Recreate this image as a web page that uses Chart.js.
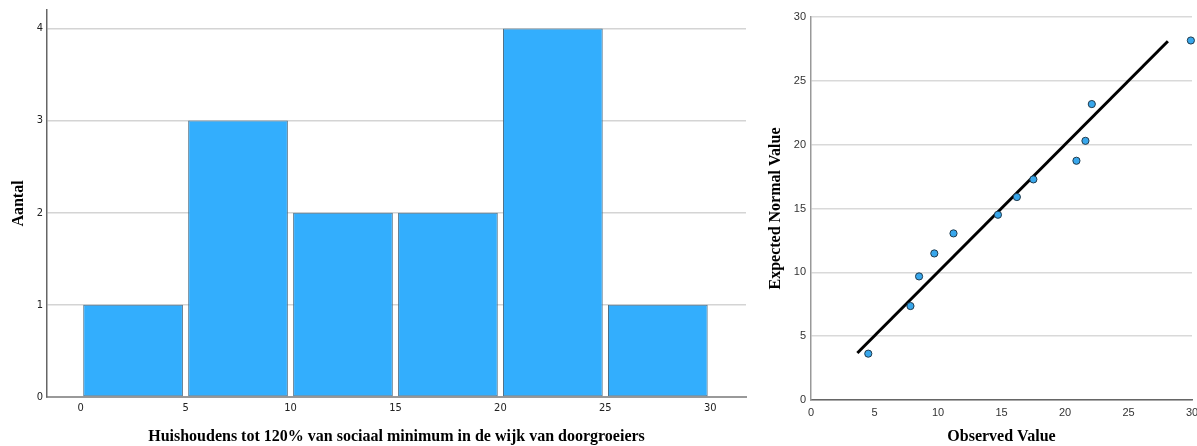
<!DOCTYPE html>
<html>
<head>
<meta charset="utf-8">
<script src="https://cdn.jsdelivr.net/npm/chart.js@4/dist/chart.umd.min.js"></script>
<style>
  html, body { margin: 0; padding: 0; background: #fff; }
  body { width: 1197px; height: 446px; position: relative; overflow: hidden; }
  #histWrap { position: absolute; left: 0; top: 0; width: 760px; height: 446px; }
  #qqWrap { position: absolute; left: 760px; top: 0; width: 437px; height: 446px; }
</style>
</head>
<body>
<div id="histWrap"><canvas id="histChart" width="760" height="446"></canvas></div>
<div id="qqWrap"><canvas id="qqChart" width="437" height="446"></canvas></div>
<script>
// histogram
const binCenters = [2.5, 7.5, 12.5, 17.5, 22.5, 27.5];
const binCounts = [1, 3, 2, 2, 4, 1];
const histXTicks = [0, 5, 10, 15, 20, 25, 30];
const histYTicks = [0, 1, 2, 3, 4];

// Q-Q plot
const observedVals = [4.51, 7.83, 8.51, 9.71, 11.22, 14.72, 16.21, 17.51, 20.9, 21.61, 22.11, 29.91];
const expectedVals = [3.63, 7.36, 9.68, 11.48, 13.05, 14.51, 15.9, 17.28, 18.74, 20.3, 23.18, 28.16];
const refLineX = [3.65, 28.1];
const refLineY = [3.68, 28.1];
const qqTicks = [0, 5, 10, 15, 20, 25, 30];

const titleFont = { family: "'Liberation Serif', 'Times New Roman', serif", size: 16, weight: 'bold' };
const narrowFont = { family: "'Liberation Sans Narrow', 'DejaVu Sans Condensed', 'Liberation Sans', sans-serif", size: 11 };
const sansFont = { family: "'Liberation Sans', Arial, sans-serif", size: 11 };

function setTicks(list) {
    return function (scale) {
        scale.ticks = list.map(v => ({ value: v }));
    };
}

// keep the plot area fixed, no extra room for tick labels that stick out
function fixHeight(h) {
    return function (s) {
        s.height = h;
        s.paddingLeft = 0;
        s.paddingRight = 0;
    };
}
function fixWidth(w) {
    return function (s) {
        s.width = w;
        s.paddingTop = 0;
        s.paddingBottom = 0;
    };
}

new Chart(document.getElementById('histChart').getContext('2d'), {
    type: 'bar',
    data: {
        datasets: [{
            data: binCenters.map((c, i) => ({ x: c, y: binCounts[i] })),
            backgroundColor: '#33aefd',
            borderColor: '#4d6f86',
            borderWidth: 1,
            borderSkipped: false,
            categoryPercentage: 1,
            barPercentage: 0.95
        }]
    },
    options: {
        responsive: false,
        animation: false,
        layout: { padding: { top: 10, right: 14, left: 0, bottom: 0 } },
        plugins: { legend: { display: false }, tooltip: { enabled: false } },
        scales: {
            x: {
                type: 'linear',
                min: -1.6,
                max: 31.7,
                offset: false,
                afterBuildTicks: setTicks(histXTicks),
                afterFit: fixHeight(49),
                grid: { display: false, offset: false, drawTicks: false },
                border: { color: '#999', width: 2 },
                ticks: { color: '#222', font: narrowFont, padding: 5, maxRotation: 0 },
                title: { display: true, text: 'Huishoudens tot 120% van sociaal minimum in de wijk van doorgroeiers', color: '#000', font: titleFont, padding: { top: 0, bottom: 0 } }
            },
            y: {
                min: 0,
                max: 4.2,
                afterBuildTicks: setTicks(histYTicks),
                afterFit: fixWidth(47),
                grid: { color: '#d4d4d4', lineWidth: 1.5, drawTicks: false },
                border: { color: '#666', width: 1.5 },
                ticks: { color: '#222', font: narrowFont, padding: 4 },
                title: { display: true, text: 'Aantal', color: '#000', font: titleFont, padding: { top: 9, bottom: 0 } }
            }
        }
    }
});

new Chart(document.getElementById('qqChart').getContext('2d'), {
    type: 'scatter',
    data: {
        datasets: [{
            type: 'line',
            data: refLineX.map((x, i) => ({ x: x, y: refLineY[i] })),
            borderColor: '#000',
            borderWidth: 3,
            pointRadius: 0,
            fill: false,
            order: 2
        }, {
            data: observedVals.map((x, i) => ({ x: x, y: expectedVals[i] })),
            backgroundColor: '#38a7ec',
            borderColor: '#203a4c',
            borderWidth: 1,
            pointRadius: 3.6,
            clip: false,
            order: 1
        }]
    },
    options: {
        responsive: false,
        animation: false,
        layout: { padding: { top: 17, right: 4, left: 0, bottom: 0 } },
        plugins: { legend: { display: false }, tooltip: { enabled: false } },
        scales: {
            x: {
                type: 'linear',
                min: 0,
                max: 30,
                afterBuildTicks: setTicks(qqTicks),
                afterFit: fixHeight(46),
                grid: { display: false, drawTicks: false },
                border: { color: '#666', width: 1.5 },
                ticks: { color: '#333', font: sansFont, padding: 6, maxRotation: 0 },
                title: { display: true, text: 'Observed Value', color: '#000', font: titleFont, padding: { top: 0, bottom: 0 } }
            },
            y: {
                min: 0,
                max: 30,
                afterBuildTicks: setTicks(qqTicks),
                afterFit: fixWidth(51),
                grid: { color: '#d9d9d9', lineWidth: 1.5, drawTicks: false },
                border: { color: '#999', width: 1.5 },
                ticks: { color: '#333', font: sansFont, padding: 5 },
                title: { display: true, text: 'Expected Normal Value', color: '#000', font: titleFont, padding: { top: 6, bottom: 0 } }
            }
        }
    }
});
</script>
</body>
</html>
